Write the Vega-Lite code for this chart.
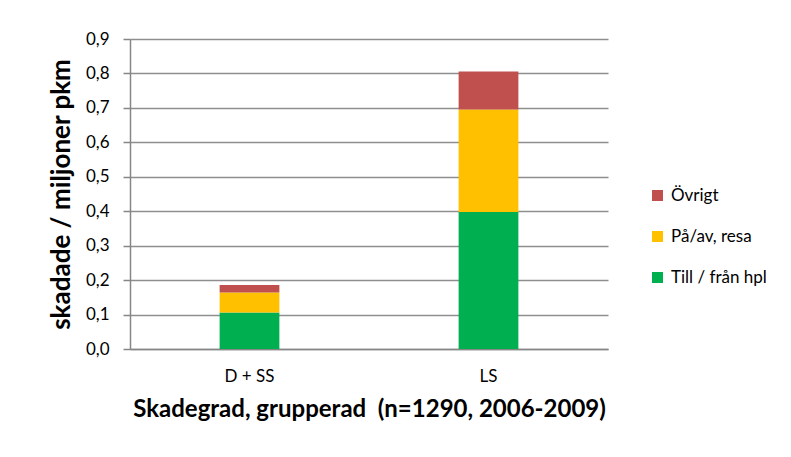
{
  "$schema": "https://vega.github.io/schema/vega-lite/v6.json",
  "width": 478,
  "height": 310,
  "autosize": {"type": "none"},
  "padding": {"left": 130, "top": 39, "right": 183, "bottom": 108},
  "background": "white",
  "data": {
    "values": [
      {"cat": "D + SS", "series": "Till / från hpl", "value": 0.106, "ord": 1},
      {"cat": "D + SS", "series": "På/av, resa", "value": 0.058, "ord": 2},
      {"cat": "D + SS", "series": "Övrigt", "value": 0.022, "ord": 3},
      {"cat": "LS", "series": "Till / från hpl", "value": 0.398, "ord": 1},
      {"cat": "LS", "series": "På/av, resa", "value": 0.297, "ord": 2},
      {"cat": "LS", "series": "Övrigt", "value": 0.111, "ord": 3}
    ]
  },
  "mark": {"type": "bar"},
  "encoding": {
    "x": {
      "field": "cat",
      "type": "nominal",
      "sort": ["D + SS", "LS"],
      "scale": {"paddingInner": 0.75, "paddingOuter": 0.375},
      "axis": {
        "title": "Skadegrad, grupperad \u00a0(n=1290, 2006-2009)",
        "titleFont": "Lato",
        "titleFontSize": 24,
        "titleFontWeight": "bold",
        "titleColor": "#000000",
        "titlePadding": 13,
        "labelAngle": 0,
        "labelFont": "Lato",
        "labelFontSize": 17,
        "labelColor": "#000000",
        "labelPadding": 19,
        "ticks": false,
        "domainColor": "#868686",
        "domainWidth": 1.5,
        "grid": false
      }
    },
    "y": {
      "field": "value",
      "type": "quantitative",
      "stack": "zero",
      "scale": {"domain": [0, 0.9], "nice": false},
      "axis": {
        "title": "skadade / miljoner pkm",
        "titleFont": "Lato",
        "titleFontSize": 26,
        "titleFontWeight": "bold",
        "titleColor": "#000000",
        "titlePadding": 11,
        "values": [0, 0.1, 0.2, 0.3, 0.4, 0.5, 0.6, 0.7, 0.8, 0.9],
        "labelExpr": "replace(format(datum.value, '.1f'), '.', ',')",
        "labelFont": "Lato",
        "labelFontSize": 17,
        "labelColor": "#000000",
        "labelPadding": 14,
        "tickSize": 7,
        "tickColor": "#868686",
        "tickWidth": 1.5,
        "domainColor": "#868686",
        "domainWidth": 1.5,
        "grid": true,
        "gridColor": "#8e8e8e",
        "gridWidth": 1.5
      }
    },
    "color": {
      "field": "series",
      "type": "nominal",
      "scale": {
        "domain": ["Övrigt", "På/av, resa", "Till / från hpl"],
        "range": ["#C0504D", "#FFC000", "#00B050"]
      },
      "legend": {
        "title": null,
        "orient": "none",
        "legendX": 519,
        "legendY": 148,
        "symbolType": "square",
        "symbolSize": 121,
        "symbolStrokeWidth": 0,
        "labelFont": "Lato",
        "labelFontSize": 17,
        "labelColor": "#000000",
        "labelOffset": 5,
        "rowPadding": 23
      }
    },
    "order": {"field": "ord", "type": "quantitative"}
  },
  "config": {
    "view": {"stroke": null},
    "axis": {"labelFontWeight": "normal"}
  }
}
